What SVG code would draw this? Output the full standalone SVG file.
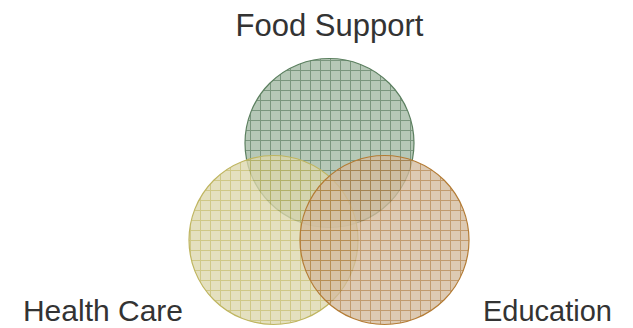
<svg xmlns="http://www.w3.org/2000/svg" width="633" height="328" viewBox="0 0 633 328">
  <defs>
    <pattern id="pg" patternUnits="userSpaceOnUse" width="10" height="10">
      <rect width="10" height="10" fill="#a2b9a3"/>
      <path d="M0 0.5H10M0.5 0V10" stroke="#55795a" stroke-width="1" fill="none"/>
    </pattern>
    <pattern id="py" patternUnits="userSpaceOnUse" width="10" height="10">
      <rect width="10" height="10" fill="#dcd7ad"/>
      <path d="M0 0.5H10M0.5 0V10" stroke="#c2b965" stroke-width="1" fill="none"/>
    </pattern>
    <pattern id="po" patternUnits="userSpaceOnUse" width="10" height="10">
      <rect width="10" height="10" fill="#d3bb9e"/>
      <path d="M0 0.5H10M0.5 0V10" stroke="#b07f45" stroke-width="1" fill="none"/>
    </pattern>
  </defs>
  <style>
    .c { fill-opacity: 0.78; stroke-width: 1.2; }
    text { font-family: "Liberation Sans", Arial, sans-serif; font-size: 31px; fill: #333333; }
  </style>
  <g id="food-support">
    <circle class="c" cx="329.5" cy="143" r="84.5" fill="url(#pg)" stroke="#5b7f5f"/>
    <text x="329.5" y="36" text-anchor="middle">Food Support</text>
  </g>
  <g id="health-care">
    <circle class="c" cx="273.5" cy="240" r="84.5" fill="url(#py)" stroke="#bfb560"/>
    <text x="103" y="321" text-anchor="middle" style="font-size:30px">Health Care</text>
  </g>
  <g id="education">
    <circle class="c" cx="384.5" cy="240" r="84.5" fill="url(#po)" stroke="#b47c35"/>
    <text x="547.5" y="321" text-anchor="middle" style="font-size:29px">Education</text>
  </g>
  <g id="connectors"/>
</svg>
